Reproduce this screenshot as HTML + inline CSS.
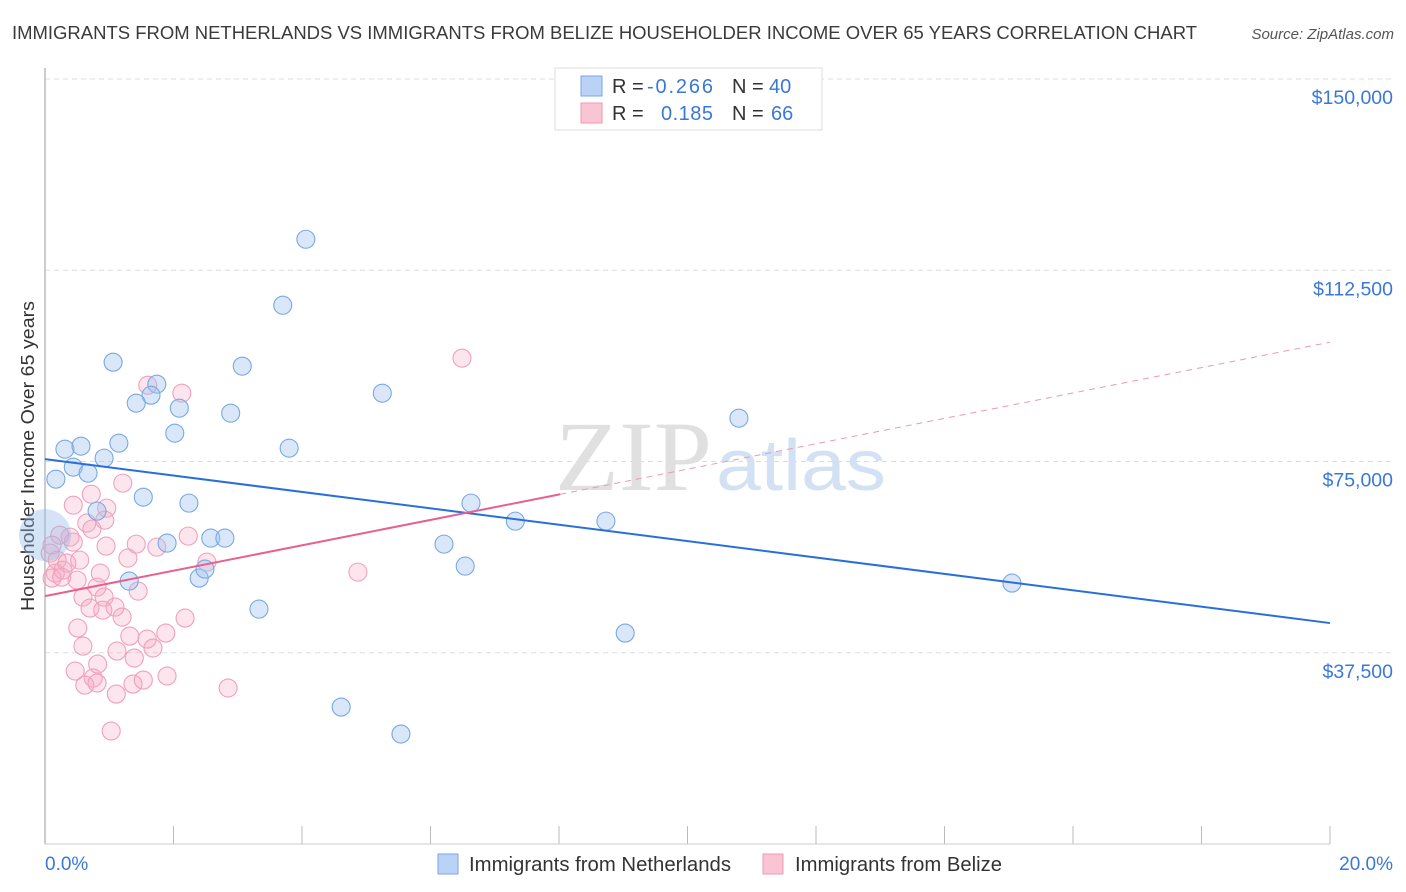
<!DOCTYPE html>
<html><head><meta charset="utf-8">
<style>
body{margin:0;background:#fff;font-family:"Liberation Sans",sans-serif;}
svg{display:block}
</style></head>
<body>
<svg id="chart" width="1406" height="892" xmlns="http://www.w3.org/2000/svg">
<text x="12" y="39" font-size="18" fill="#3a3a3a" textLength="1185" lengthAdjust="spacingAndGlyphs">IMMIGRANTS FROM NETHERLANDS VS IMMIGRANTS FROM BELIZE HOUSEHOLDER INCOME OVER 65 YEARS CORRELATION CHART</text>
<text x="1394" y="39" font-size="15" fill="#555" font-style="italic" text-anchor="end">Source: ZipAtlas.com</text>
<g id="grid"></g>
<text x="555" y="490" font-size="100" fill="#e0e0e0" font-family="Liberation Serif,serif" textLength="157" lengthAdjust="spacingAndGlyphs">ZIP</text>
<text x="716" y="490" font-size="72" fill="#d3e1f4" textLength="170" lengthAdjust="spacingAndGlyphs">atlas</text>
<line x1="45" y1="68" x2="45" y2="844" stroke="#bbb" stroke-width="1.5"/>
<line x1="45" y1="844" x2="1330" y2="844" stroke="#ccc" stroke-width="1"/>
<g id="ticks"></g>
<g id="ylabels"></g>
<text transform="translate(34,456) rotate(-90)" font-size="18" fill="#333" text-anchor="middle" textLength="310" lengthAdjust="spacingAndGlyphs">Householder Income Over 65 years</text>
<text x="45" y="870" font-size="19" fill="#3a78d8">0.0%</text>
<text x="1393" y="870" font-size="19" fill="#3a78d8" text-anchor="end">20.0%</text>
<g id="pinkpts"></g>
<g id="bluepts"></g>
<g id="lines"></g>
<g>
<rect x="555" y="68" width="267" height="62" fill="#fff" stroke="#ddd"/>
<rect x="581" y="76" width="21" height="20" fill="#b9d2f5" stroke="#7aa6e6"/>
<rect x="581" y="103" width="21" height="20" fill="#f9c4d4" stroke="#ee9ab4"/>
<text x="612" y="93" font-size="20" fill="#333">R = <tspan x="647" fill="#3a78d8" textLength="66">-0.266</tspan><tspan x="732">N = </tspan><tspan x="769" fill="#3a78d8">40</tspan></text>
<text x="612" y="120" font-size="20" fill="#333">R = <tspan x="661" fill="#3a78d8" textLength="52">0.185</tspan><tspan x="732">N = </tspan><tspan x="771" fill="#3a78d8">66</tspan></text>
</g>
<g>
<rect x="438" y="854" width="20" height="20" fill="#b9d2f5" stroke="#7aa6e6"/>
<text x="469" y="871" font-size="20" fill="#333" textLength="262" lengthAdjust="spacingAndGlyphs">Immigrants from Netherlands</text>
<rect x="763" y="854" width="20" height="20" fill="#f9c4d4" stroke="#ee9ab4"/>
<text x="795" y="871" font-size="20" fill="#333" textLength="207" lengthAdjust="spacingAndGlyphs">Immigrants from Belize</text>
</g>
</svg>
<script>
const yTicks=[37500,75000,112500,150000];
const yTickLabels=["$37,500","$75,000","$112,500","$150,000"];
const xTicks=[0,2,4,6,8,10,12,14,16,18,20];
const blueX=[4.06,3.70,1.06,3.07,1.74,1.65,1.42,5.25,2.09,2.89,2.02,10.80,0.31,0.56,1.15,3.80,0.92,0.44,0.67,0.17,1.53,2.24,6.63,0.81,7.32,8.73,2.58,2.80,1.90,6.21,6.54,1.31,2.40,2.49,3.33,15.05,9.03,4.61,5.54];
const blueY=[118580,105640,94470,93690,90160,88000,86440,88400,85460,84480,80560,83500,77420,78010,78600,77620,75660,73890,72720,71540,68010,66840,66840,65270,63310,63310,59980,59980,59000,58800,54490,51550,52140,53900,46060,51160,41360,26850,21560];
const blueBig=[0,60560];
const pinkX=[1.60,2.13,6.49,1.21,0.72,0.44,0.96,0.93,0.65,0.73,0.23,0.39,0.44,0.11,0.95,1.42,1.74,2.23,1.29,0.54,0.08,0.19,0.34,0.28,0.16,0.11,0.26,0.50,0.86,2.52,4.87,1.45,0.59,0.81,0.92,0.70,0.90,1.09,1.20,2.18,0.51,0.59,1.32,1.59,1.68,1.88,1.12,1.39,0.82,0.47,0.75,0.62,0.81,1.37,1.53,1.90,1.11,2.85,1.03];
const pinkY=[89960,88400,95260,70760,68600,66440,65860,63500,62920,61740,60560,60170,59190,58600,58410,58800,58210,60370,56060,55660,57040,55660,55080,53700,53120,52140,52330,51740,53120,55270,53310,49590,48410,50370,48410,46260,45860,46450,44490,44300,42340,38810,40770,40180,38420,41360,37830,36460,35280,33910,32540,31160,31560,31360,32140,32930,29400,30580,22150];
const blueTrend=[75460,43320];
const pinkTrend=[48610,98390];
const pinkSolidEnd=8.02;

const NS="http://www.w3.org/2000/svg";
const sx=v=>45+v*64.25;
const sy=v=>844-v*765/150000;
function mk(tag,attrs,parent){const e=document.createElementNS(NS,tag);for(const k in attrs)e.setAttribute(k,attrs[k]);parent.appendChild(e);return e;}
const grid=document.getElementById('grid'),yl=document.getElementById('ylabels'),tk=document.getElementById('ticks');
yTicks.forEach((t,i)=>{
  const l=mk('line',{x1:45,x2:1393,y1:sy(t),y2:sy(t),stroke:'#ddd','stroke-dasharray':'5,4'},grid);
  
  
  const tx=mk('text',{x:1393,y:sy(t)+25,'font-size':19.5,fill:'#3a78d8','text-anchor':'end'},yl);
  tx.textContent=yTickLabels[i];
  
  
});
xTicks.forEach(t=>{
  const l=mk('line',{x1:sx(t),x2:sx(t),y1:826,y2:844,stroke:'#bbb'},tk);
  
  
});
const pp=document.getElementById('pinkpts'),bp=document.getElementById('bluepts');
pinkX.forEach((x,i)=>{
  const c=mk('circle',{cx:sx(x),cy:sy(pinkY[i]),r:9,fill:'rgba(246,170,194,0.3)',stroke:'#f0a0ba','stroke-width':1.1},pp);
  
  
});
const big=mk('circle',{cx:sx(blueBig[0]),cy:sy(blueBig[1]),r:26,fill:'rgba(150,185,235,0.4)',stroke:'none'},bp);


blueX.forEach((x,i)=>{
  const c=mk('circle',{cx:sx(x),cy:sy(blueY[i]),r:9,fill:'rgba(160,196,240,0.4)',stroke:'#78a8e4','stroke-width':1.1},bp);
  
  
});
const ln=document.getElementById('lines');
const bl=mk('line',{x1:sx(0),y1:sy(blueTrend[0]),x2:sx(20),y2:sy(blueTrend[1]),stroke:'#2a6fd8','stroke-width':2},ln);


const pv=x=>pinkTrend[0]+(pinkTrend[1]-pinkTrend[0])*x/20;
const pl=mk('line',{x1:sx(0),y1:sy(pv(0)),x2:sx(pinkSolidEnd),y2:sy(pv(pinkSolidEnd)),stroke:'#e8608f','stroke-width':2},ln);


const pd=mk('line',{x1:sx(pinkSolidEnd),y1:sy(pv(pinkSolidEnd)),x2:sx(20),y2:sy(pv(20)),stroke:'#e89ab4','stroke-width':1,'stroke-dasharray':'6,5'},ln);


</script>
</body></html>
